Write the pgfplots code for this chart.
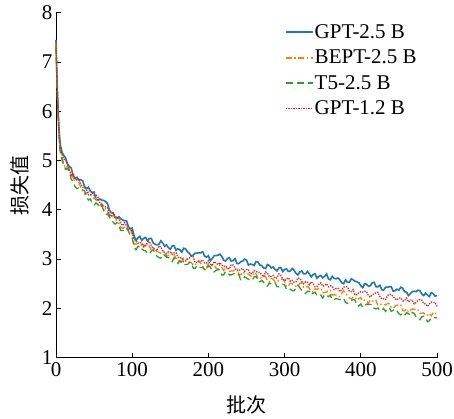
\documentclass[border=0pt]{standalone}
\usepackage{pgfplots}
\usepackage{pgfplotstable}
\pgfplotsset{compat=1.18}
\usepackage{fontspec}
\setmainfont{Liberation Serif}
\newfontfamily\cjk{Noto Sans CJK SC}
\definecolor{cBlue}{HTML}{1F77B4}
\definecolor{cOrange}{HTML}{FF7F0E}
\definecolor{cGreen}{HTML}{2CA02C}
\definecolor{cRed}{HTML}{D62728}
\pgfplotstableread{
x gptA bept tfive gptB
0 7.45 7.35 7.30 7.40
1 6.85 6.75 6.70 6.80
2 6.35 6.22 6.18 6.30
3 5.95 5.85 5.82 5.90
4 5.62 5.52 5.47 5.58
5 5.42 5.30 5.25 5.38
6 5.30 5.19 5.14 5.25
8 5.16 5.06 5.00 5.12
10 5.11 4.94 4.92 5.03
12.5 5.06 4.85 4.82 5.02
15 4.93 4.89 4.84 4.94
17.5 4.88 4.83 4.77 4.81
20 4.85 4.72 4.62 4.70
22.5 4.69 4.65 4.57 4.74
25 4.64 4.57 4.47 4.65
27.5 4.66 4.61 4.43 4.60
30 4.61 4.56 4.45 4.62
32.5 4.61 4.45 4.42 4.52
35 4.59 4.39 4.40 4.46
37.5 4.47 4.32 4.39 4.45
40 4.43 4.34 4.27 4.41
42.5 4.46 4.36 4.20 4.30
45 4.38 4.32 4.22 4.30
47.5 4.35 4.27 4.14 4.34
50 4.36 4.23 4.10 4.30
52.5 4.21 4.23 4.14 4.30
55 4.20 4.10 4.11 4.25
57.5 4.22 4.08 4.04 4.15
60 4.20 4.13 4.08 4.10
62.5 4.19 4.06 4.00 4.07
65 4.17 4.02 3.90 4.06
67.5 4.13 3.97 3.92 4.04
70 4.00 3.89 3.86 3.91
72.5 3.94 3.84 3.79 3.87
75 3.94 3.90 3.75 3.93
77.5 3.84 3.87 3.71 3.87
80 3.83 3.76 3.74 3.84
82.5 3.86 3.73 3.68 3.82
85 3.82 3.65 3.58 3.73
87.5 3.79 3.62 3.58 3.68
90 3.78 3.65 3.58 3.74
92.5 3.78 3.63 3.63 3.68
95 3.66 3.63 3.57 3.60
97.5 3.61 3.62 3.48 3.62
100 3.63 3.50 3.44 3.55
102.5 3.47 3.30 3.24 3.40
105 3.38 3.31 3.19 3.38
107.5 3.43 3.26 3.26 3.32
110 3.46 3.24 3.26 3.34
112.5 3.38 3.30 3.21 3.32
115 3.42 3.29 3.18 3.25
117.5 3.44 3.24 3.17 3.29
120 3.37 3.31 3.11 3.33
122.5 3.42 3.26 3.10 3.36
125 3.42 3.18 3.16 3.28
127.5 3.33 3.23 3.19 3.21
130 3.30 3.20 3.13 3.20
132.5 3.29 3.15 3.06 3.17
135 3.30 3.14 3.03 3.27
137.5 3.37 3.12 3.02 3.25
140 3.33 3.17 3.10 3.17
142.5 3.26 3.14 3.08 3.13
145 3.29 3.06 3.04 3.11
147.5 3.23 3.08 3.04 3.15
150 3.20 3.09 2.98 3.14
152.5 3.27 3.14 2.95 3.10
155 3.27 3.09 3.03 3.13
157.5 3.18 3.02 2.97 3.13
160 3.21 3.00 2.91 3.04
162.5 3.19 2.91 2.97 3.02
165 3.14 2.95 2.94 3.03
167.5 3.22 3.02 2.89 2.95
170 3.21 3.02 2.89 2.96
172.5 3.15 2.97 2.89 3.00
175 3.12 2.94 2.93 3.02
177.5 3.06 2.93 2.93 3.07
180 3.08 2.88 2.82 3.05
182.5 3.12 2.87 2.81 2.93
185 3.12 2.94 2.87 2.93
187.5 3.13 2.97 2.84 2.95
190 3.13 2.91 2.83 2.96
192.5 3.15 2.85 2.83 2.98
195 3.06 2.83 2.79 2.92
197.5 3.04 2.82 2.77 2.92
200 3.07 2.91 2.87 2.97
202.5 2.97 2.90 2.84 2.90
205 3.01 2.86 2.75 2.87
207.5 3.07 2.87 2.74 2.95
210 3.07 2.82 2.77 2.92
212.5 3.08 2.79 2.79 2.89
215 3.10 2.88 2.78 2.93
217.5 3.06 2.83 2.68 2.88
220 2.98 2.77 2.68 2.85
222.5 2.96 2.83 2.75 2.86
225 3.01 2.80 2.73 2.82
227.5 3.03 2.75 2.68 2.80
230 2.96 2.76 2.68 2.89
232.5 2.97 2.76 2.70 2.88
235 3.01 2.80 2.72 2.81
237.5 2.91 2.80 2.72 2.77
240 2.91 2.69 2.68 2.76
242.5 2.95 2.68 2.57 2.80
245 2.96 2.74 2.59 2.81
247.5 3.00 2.71 2.64 2.75
250 2.98 2.70 2.62 2.79
252.5 2.88 2.70 2.59 2.79
255 2.90 2.66 2.58 2.70
257.5 2.89 2.64 2.57 2.71
260 2.87 2.73 2.64 2.77
262.5 2.95 2.70 2.65 2.75
265 2.94 2.61 2.55 2.73
267.5 2.88 2.60 2.54 2.73
270 2.87 2.63 2.57 2.68
272.5 2.82 2.65 2.53 2.64
275 2.81 2.65 2.47 2.74
277.5 2.89 2.55 2.45 2.72
280 2.87 2.54 2.52 2.64
282.5 2.82 2.61 2.49 2.65
285 2.84 2.59 2.52 2.67
287.5 2.79 2.54 2.52 2.61
290 2.76 2.54 2.44 2.62
292.5 2.82 2.57 2.44 2.70
295 2.83 2.59 2.45 2.67
297.5 2.75 2.59 2.49 2.60
300 2.79 2.55 2.48 2.56
302.5 2.80 2.44 2.38 2.60
305 2.75 2.46 2.39 2.62
307.5 2.76 2.51 2.39 2.55
310 2.81 2.50 2.36 2.57
312.5 2.77 2.47 2.36 2.53
315 2.71 2.45 2.41 2.54
317.5 2.68 2.44 2.47 2.62
320 2.74 2.51 2.42 2.61
322.5 2.76 2.52 2.36 2.55
325 2.70 2.43 2.33 2.50
327.5 2.70 2.42 2.30 2.54
330 2.75 2.45 2.35 2.53
332.5 2.70 2.41 2.35 2.48
335 2.64 2.35 2.28 2.54
337.5 2.69 2.33 2.31 2.50
340 2.70 2.40 2.33 2.44
342.5 2.61 2.38 2.26 2.44
345 2.65 2.41 2.28 2.49
347.5 2.67 2.41 2.27 2.52
350 2.62 2.32 2.21 2.45
352.5 2.65 2.32 2.28 2.46
355 2.70 2.33 2.27 2.50
357.5 2.60 2.37 2.24 2.44
360 2.58 2.37 2.27 2.46
362.5 2.65 2.27 2.17 2.45
365 2.61 2.28 2.18 2.38
367.5 2.60 2.27 2.20 2.40
370 2.62 2.24 2.19 2.41
372.5 2.58 2.24 2.18 2.34
375 2.52 2.30 2.21 2.37
377.5 2.50 2.36 2.20 2.43
380 2.58 2.31 2.12 2.44
382.5 2.53 2.25 2.10 2.44
385 2.53 2.22 2.15 2.35
387.5 2.60 2.19 2.16 2.34
390 2.58 2.23 2.18 2.38
392.5 2.55 2.23 2.17 2.27
395 2.54 2.17 2.06 2.28
397.5 2.52 2.20 2.05 2.32
400 2.46 2.22 2.09 2.34
402.5 2.42 2.15 2.02 2.33
405 2.50 2.17 2.05 2.35
407.5 2.49 2.16 2.09 2.34
410 2.45 2.10 2.08 2.26
412.5 2.46 2.17 2.08 2.23
415 2.52 2.16 2.08 2.28
417.5 2.53 2.13 2.00 2.29
420 2.44 2.16 1.99 2.32
422.5 2.44 2.06 2.01 2.33
425 2.47 2.08 1.96 2.24
427.5 2.38 2.09 1.96 2.19
430 2.37 2.08 2.00 2.20
432.5 2.43 2.07 1.94 2.18
435 2.43 2.10 2.00 2.26
437.5 2.44 2.09 2.01 2.29
440 2.44 2.02 1.94 2.28
442.5 2.35 2.00 1.96 2.24
445 2.36 2.05 1.99 2.20
447.5 2.39 2.06 1.95 2.17
450 2.37 2.08 1.89 2.21
452.5 2.43 2.07 1.87 2.21
455 2.41 1.96 1.90 2.15
457.5 2.34 1.95 1.86 2.16
460 2.33 1.99 1.91 2.21
462.5 2.26 1.93 1.90 2.13
465 2.30 1.96 1.85 2.17
467.5 2.34 1.99 1.92 2.17
470 2.35 1.98 1.90 2.09
472.5 2.34 1.98 1.83 2.12
475 2.37 1.98 1.79 2.16
477.5 2.36 1.90 1.77 2.18
480 2.29 1.90 1.83 2.17
482.5 2.26 1.91 1.84 2.10
485 2.31 1.86 1.82 2.09
487.5 2.27 1.86 1.73 2.04
490 2.24 1.90 1.75 2.09
492.5 2.32 1.85 1.81 2.13
495 2.30 1.91 1.81 2.12
497.5 2.25 1.92 1.81 2.12
500 2.26 1.84 1.81 2.04
}\losstable
\begin{document}
\begin{tikzpicture}[font=\fontsize{20}{24}\selectfont]
\begin{axis}[
  scale only axis,
  width=381pt, height=345pt,
  xmin=0, xmax=500, ymin=1, ymax=8,
  xtick={0,100,...,500}, ytick={1,2,...,8},
  axis x line*=bottom, axis y line*=left,
  axis line style={line width=0.8pt, -},
  tick style={black, line width=0.8pt},
  major tick length=5pt,
  tick align=inside,
  /pgf/number format/assume math mode=true,
  ticklabel style={font=\fontsize{21}{24}\selectfont},
  xticklabel style={yshift=-1pt},
  xlabel={\cjk\fontsize{20}{24}\selectfont 批次},
  ylabel={\cjk\fontsize{20}{24}\selectfont 损失值},
  xlabel style={yshift=-12pt},
  ylabel style={yshift=6pt},
  legend style={draw=none, fill=none, at={(0.598,0.972)}, anchor=north west,
    font=\fontsize{21}{24}\selectfont, row sep=8pt, inner sep=1pt,
    nodes={inner sep=1pt}},
  legend cell align=left,
  legend image code/.code={\draw[#1, line width=1.7pt] (0pt,0pt) -- (27pt,0pt);},
  clip=false,
]
\addplot[cBlue, line width=1.6pt] table[x=x, y=gptA] {\losstable};
\addlegendentry{GPT-2.5 B}
\addplot[cOrange, line width=1.3pt, dash pattern=on 6pt off 2.5pt on 1.5pt off 2.5pt] table[x=x, y=bept] {\losstable};
\addlegendentry{BEPT-2.5 B}
\addplot[cGreen, line width=1.3pt, dash pattern=on 7pt off 4pt] table[x=x, y=tfive] {\losstable};
\addlegendentry{T5-2.5 B}
\addplot[cRed, line width=1.3pt, dash pattern=on 1.3pt off 1.2pt] table[x=x, y=gptB] {\losstable};
\addlegendentry{GPT-1.2 B}
\end{axis}
\pgfresetboundingbox
\path[use as bounding box] (current axis.south west) ++(-56pt,-61.3pt) rectangle ++(454pt,419pt);
\end{tikzpicture}
\end{document}
